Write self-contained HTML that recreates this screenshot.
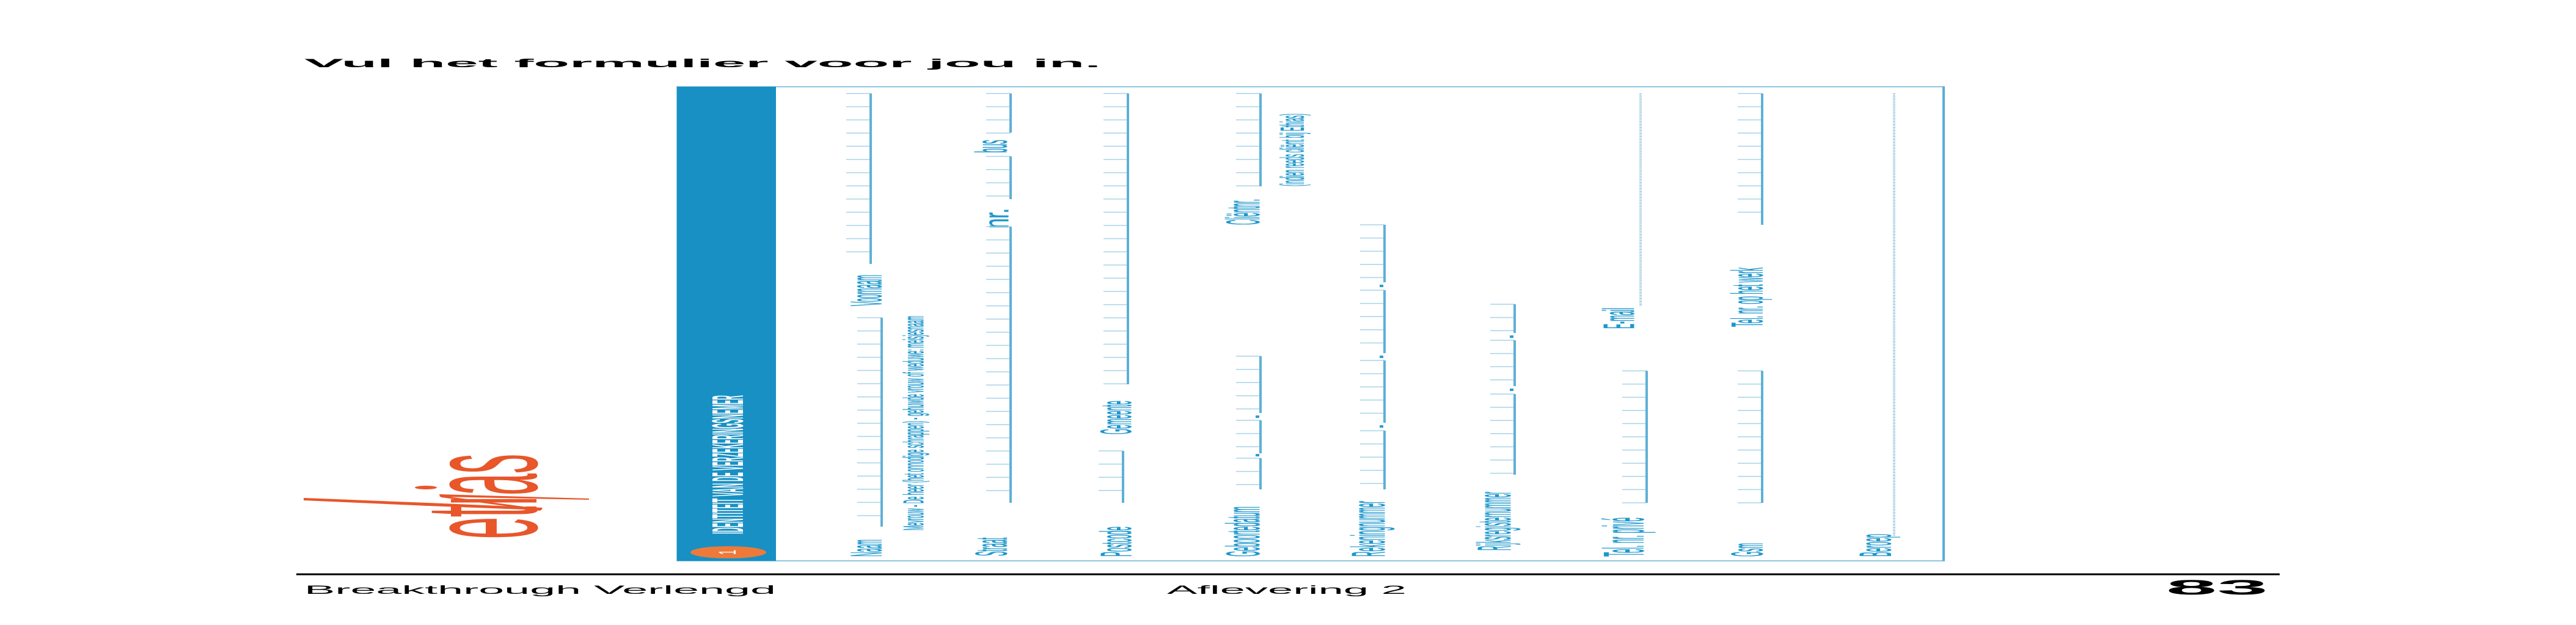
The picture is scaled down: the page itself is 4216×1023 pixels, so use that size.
<!DOCTYPE html>
<html><head><meta charset="utf-8"><style>
html,body{margin:0;padding:0;background:#fff;width:4216px;height:1023px;overflow:hidden}
svg{display:block}
</style></head><body>
<svg id="pg" width="4216" height="1023" viewBox="0 0 4216 1023" xmlns="http://www.w3.org/2000/svg">
<text x="498" y="110" font-family="Liberation Sans, sans-serif" font-weight="bold" font-size="19" textLength="1304" lengthAdjust="spacingAndGlyphs" fill="#000">Vul het formulier voor jou in.</text>

<g>
<text transform="translate(878,882) rotate(-90)" font-family="Liberation Sans, sans-serif" font-size="265" textLength="139" lengthAdjust="spacingAndGlyphs" fill="#e8562a">etıas</text>
<rect x="720" y="780" width="15" height="10" fill="#fff"/>
<ellipse cx="697" cy="798" rx="18" ry="3" fill="#e8562a"/>
<path d="M497 815 L700 823 L888 831 L886 835 L700 828 L497 819 Z" fill="#e8562a"/>
<path d="M719 809 L964 816 L964 818 L720 813 Z" fill="#e8562a"/>
<path d="M720 811 L886 833 L884 836 L722 814 Z" fill="#e8562a"/>
</g>

<rect x="1108" y="142" width="2074" height="776" fill="#fff" stroke="#8cc6e0" stroke-width="2"/>
<line x1="3181" y1="142" x2="3181" y2="918" stroke="#5aaed6" stroke-width="4"/>
<rect x="1108" y="142" width="162" height="776" fill="#1890c4"/>
<text transform="translate(1216,874) rotate(-90)" font-family="Liberation Sans, sans-serif" font-weight="bold" font-size="72" textLength="227" lengthAdjust="spacingAndGlyphs" fill="#fff">IDENTITEIT VAN DE VERZEKERINGSNEMER</text>
<ellipse cx="1192" cy="904" rx="62" ry="10" fill="#ee7a3a"/>
<text transform="translate(1204,904) rotate(-90)" font-family="Liberation Sans, sans-serif" font-size="40" fill="#fff" text-anchor="middle" textLength="8" lengthAdjust="spacingAndGlyphs">1</text>

<g id="fields"></g>

<line x1="485" y1="940" x2="3731" y2="940" stroke="#000" stroke-width="3"/>
<text x="498" y="972" font-family="Liberation Sans, sans-serif" font-size="19" textLength="772" lengthAdjust="spacingAndGlyphs" fill="#000">Breakthrough Verlengd</text>
<text x="1910" y="972" font-family="Liberation Sans, sans-serif" font-size="19" textLength="392" lengthAdjust="spacingAndGlyphs" fill="#000">Aflevering 2</text>
<text x="3545" y="973" font-family="Liberation Sans, sans-serif" font-weight="bold" font-size="34" textLength="167" lengthAdjust="spacingAndGlyphs" fill="#000">83</text>
</svg>
<script>
const NS='http://www.w3.org/2000/svg';
const g=document.getElementById('fields');
const labels=[
['Naam',1391,1454,883,911,'name-label'],
['Voornaam',1391,1454,450,501,'first-name-label'],
['Mevrouw - De heer (het onnodige schrappen) - gehuwde vrouw of weduwe: meisjesnaam',1471,1520,517,868,'title-hint'],
['Straat',1596,1659,880,910,'street-label'],
['nr.',1610,1659,341,374,'number-label'],
['bus',1596,1659,229,250,'box-label'],
['Postcode',1800,1862,862,911,'postcode-label'],
['Gemeente',1800,1862,656,711,'municipality-label'],
['Geboortedatum',2006,2073,829,911,'birthdate-label'],
['Cliëntnr.',2006,2073,326,368,'client-number-label'],
['(indien reeds cliënt bij Ethias)',2087,2144,186,305,'client-hint'],
['Rekeningnummer',2211,2278,820,911,'account-number-label'],
['Rijksregisternummer',2417,2484,805,901,'national-register-label'],
['Tel. nr. privé',2623,2704,847,911,'phone-private-label'],
['E-mail',2623,2685,504,538,'email-label'],
['Gsm',2833,2896,889,911,'mobile-label'],
['Tel. nr. op het werk',2833,2896,438,535,'phone-work-label'],
['Beroep',3042,3106,874,911,'occupation-label']
];
const inputs=[
[1443,520,862,0,'name-input'],[1425,153,432,0,'first-name-input'],
[1654,371,823,0,'street-input'],[1654,256,326,0,'number-input'],[1654,153,217,0,'box-input'],
[1838,738,823,0,'postcode-input'],[1846,153,629,0,'municipality-input'],
[2063,750,801,0,'birthdate-day-input'],[2063,688,742,0,'birthdate-month-input'],[2063,583,676,0,'birthdate-year-input'],
[2063,153,305,0,'client-number-input'],
[2266,705,801,0,'account-part1-input'],[2266,590,692,0,'account-part2-input'],[2266,475,578,0,'account-part3-input'],[2266,368,462,0,'account-part4-input'],
[2479,645,777,0,'register-part1-input'],[2479,557,632,0,'register-part2-input'],[2479,498,545,0,'register-part3-input'],
[2695,607,823,0,'phone-private-input'],[2685,153,501,1,'email-input'],
[2884,607,823,0,'mobile-input'],[2884,153,368,0,'phone-work-input'],
[3100,153,877,1,'occupation-input']
];
const dots=[[2063,682],[2063,745],[2266,468],[2266,584],[2266,698],[2479,551],[2479,638]];
labels.forEach(l=>{
  const t=document.createElementNS(NS,'text');
  const h=l[2]-l[1];
  const fs=l[0].length>30?h*0.95:h*1.15;
  t.setAttribute('transform','translate('+(l[2]-h*0.18)+','+l[4]+') rotate(-90)');
  t.setAttribute('font-family','Liberation Sans Narrow, Liberation Sans, sans-serif');
  t.setAttribute('font-size',fs);
  t.setAttribute('textLength',l[4]-l[3]);
  t.setAttribute('lengthAdjust','spacingAndGlyphs');
  t.setAttribute('fill','#1f97cc');
  t.setAttribute('stroke','#1f97cc');
  t.setAttribute('stroke-width','1');
  t.textContent=l[0];
  
  
  g.appendChild(t);
});
inputs.forEach(f=>{
  const grp=document.createElementNS(NS,'g');
  
  
  const ln=document.createElementNS(NS,'line');
  ln.setAttribute('x1',f[0]);ln.setAttribute('x2',f[0]);ln.setAttribute('y1',f[1]);ln.setAttribute('y2',f[2]);
  if(f[3]){ln.setAttribute('stroke','#6fb6d9');ln.setAttribute('stroke-width','4');ln.setAttribute('stroke-dasharray','1 1.5');}
  else{ln.setAttribute('stroke','#5fb0d6');ln.setAttribute('stroke-width','4');
    for(let y=f[1];y<=f[2]+1;y+=21.6){
      const tk=document.createElementNS(NS,'line');
      tk.setAttribute('x1',f[0]-40);tk.setAttribute('x2',f[0]);tk.setAttribute('y1',y);tk.setAttribute('y2',y);
      tk.setAttribute('stroke','#a9d3e8');tk.setAttribute('stroke-width','1.5');
      grp.appendChild(tk);
    }
  }
  grp.appendChild(ln);
  g.appendChild(grp);
});
dots.forEach(d=>{
  const c=document.createElementNS(NS,'rect');
  c.setAttribute('x',d[0]-8);c.setAttribute('y',d[1]-2);c.setAttribute('width',6);c.setAttribute('height',4);
  c.setAttribute('fill','#2a9fd0');
  
  
  g.appendChild(c);
});
</script>
</body></html>
